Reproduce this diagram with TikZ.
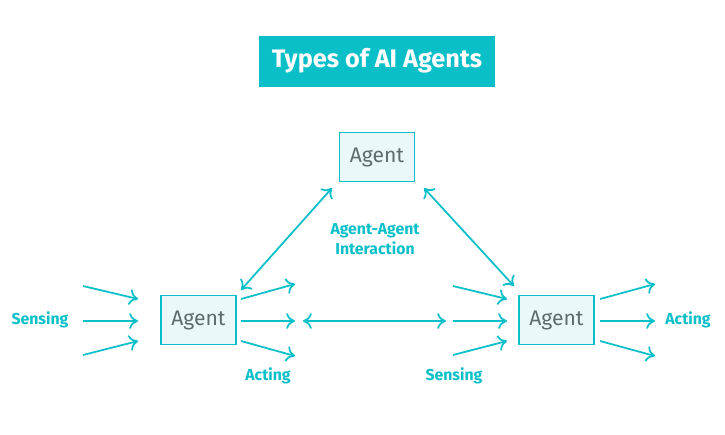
\documentclass[tikz,border=0pt]{standalone}
\usepackage{fontspec}
\setmainfont{Fira Sans}
\usetikzlibrary{positioning, arrows.meta}
\definecolor{teal0}{HTML}{0ABFC8}
\definecolor{paleteal}{HTML}{EAF8F9}
\definecolor{txtgray}{HTML}{5F6B6D}
\tikzset{
	agent/.style={draw=teal0, fill=paleteal, line width=1pt, minimum width=1.5cm, minimum height=0.98cm, text=txtgray, font=\large},
	flow/.style={teal0, line width=1pt, -{To[length=5pt,width=9pt]}},
	both/.style={teal0, line width=1pt, {To[length=5pt,width=9pt]}-{To[length=5pt,width=9pt]}},
	lbl/.style={text=teal0, font=\small\bfseries}
}
\begin{document}
\begin{tikzpicture}[x=0.02cm, y=-0.02cm]
	\useasboundingbox (0,0) rectangle (725,434);

	\node[fill=teal0, text=white, font=\Large\bfseries, minimum width=4.72cm, minimum height=1.02cm] (title) at (377,61) {Types of AI Agents};

	\node[agent] (top) at (377,157) {Agent};
	\node[agent] (left) at (198.5,320) {Agent};
	\node[agent] (right) at (556.5,320) {Agent};

	% sensing and acting arrows
	\foreach \n/\xa/\xb in {ls/83/138, rs/453/507}{
		\coordinate (\n a1) at (\xa,286); \coordinate (\n b1) at (\xb,299);
		\coordinate (\n a2) at (\xa,321); \coordinate (\n b2) at (\xb,321);
		\coordinate (\n a3) at (\xa,355); \coordinate (\n b3) at (\xb,341);
	}
	\foreach \n/\xa/\xb in {la/241/295, ra/600/655}{
		\coordinate (\n a1) at (\xa,299); \coordinate (\n b1) at (\xb,284);
		\coordinate (\n a2) at (\xa,321); \coordinate (\n b2) at (\xb,321);
		\coordinate (\n a3) at (\xa,341); \coordinate (\n b3) at (\xb,356);
	}
	\foreach \n in {ls, rs, la, ra}
		\foreach \i in {1,2,3}
			\draw[flow] (\n a\i) -- (\n b\i);

	% interaction
	\coordinate (m1) at (303,321); \coordinate (m2) at (446,321);
	\draw[both] (m1) -- (m2);
	\coordinate (d1) at (241,290); \coordinate (d2) at (332,188);
	\draw[both] (d1) -- (d2);
	\coordinate (d3) at (424,188); \coordinate (d4) at (514,286);
	\draw[both] (d3) -- (d4);

	\node[lbl] (sensL) at (40,320) {Sensing};
	\node[lbl] (actL) at (268,376) {Acting};
	\node[lbl] (sensR) at (454,376) {Sensing};
	\node[lbl] (actR) at (688,320) {Acting};
	\node[lbl, align=center, inner sep=0pt] (inter) at (375,239) {Agent-Agent\\Interaction};
\end{tikzpicture}
\end{document}
